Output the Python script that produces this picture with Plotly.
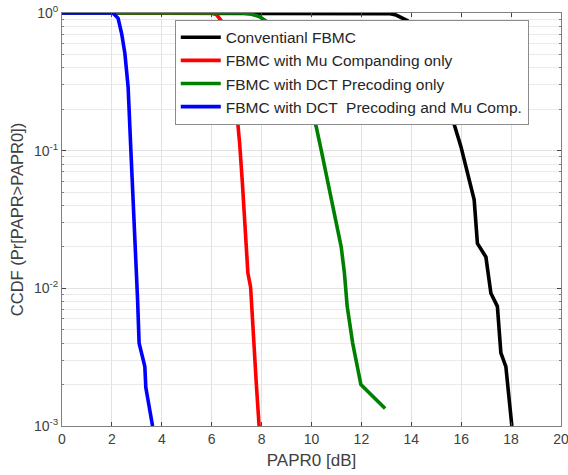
import plotly.graph_objects as go

# ---- data ----
conv_x = [0, 12.8, 13.1, 13.39, 13.65, 13.85, 14.2, 14.6, 15.0, 15.3, 15.52, 15.99, 16.25, 16.52, 16.65,
          16.99, 17.19, 17.45, 17.59, 17.79, 18.03]
conv_y = [1.0, 1.0, 0.99, 0.967, 0.915, 0.88, 0.75, 0.55, 0.38, 0.27, 0.204, 0.107, 0.068, 0.044, 0.0212,
          0.0169, 0.0092, 0.0074, 0.0034, 0.0027, 0.001]

mu_x = [0, 6.0, 6.2, 6.4, 6.6, 6.8, 6.99, 7.12, 7.23, 7.39, 7.45, 7.56, 7.68, 7.79, 7.9]
mu_y = [1.0, 1.0, 0.97, 0.87, 0.65, 0.4, 0.204, 0.113, 0.058, 0.020, 0.0129, 0.0102, 0.0040, 0.0020, 0.001]

dct_x = [0, 7.2, 7.6, 7.92, 8.19, 8.6, 9.0, 9.4, 9.7, 9.92, 10.19, 10.39, 10.59, 10.85, 10.99, 11.19,
         11.32, 11.43, 11.65, 11.98, 12.95]
dct_y = [1.0, 1.0, 0.98, 0.94, 0.87, 0.72, 0.55, 0.38, 0.27, 0.204, 0.149, 0.101, 0.068, 0.039, 0.031,
         0.020, 0.0129, 0.0074, 0.0040, 0.0020, 0.00134]

both_x = [0, 2.04, 2.25, 2.39, 2.52, 2.65, 2.76, 2.85, 2.96, 3.03, 3.09, 3.32, 3.36, 3.63]
both_y = [1.0, 1.0, 0.915, 0.71, 0.51, 0.29, 0.101, 0.044, 0.020, 0.0082, 0.0040, 0.0027, 0.0019, 0.001]

names = ["Conventianl FBMC", "FBMC with Mu Companding only",
         "FBMC with DCT Precoding only", "FBMC with DCT  Precoding and Mu Comp."]
colors = ["#000000", "#ff0000", "#008000", "#0000ff"]

x_ticks = list(range(0, 21, 2))
y_major = [1, 0.1, 0.01, 0.001]
y_major_text = ["10<sup>0</sup>", "10<sup>-1</sup>", "10<sup>-2</sup>", "10<sup>-3</sup>"]
y_minor = [m * d for d in [0.001, 0.01, 0.1] for m in range(2, 10)]

fig = go.Figure()
for xs, ys, nm, c in zip([conv_x, mu_x, dct_x, both_x], [conv_y, mu_y, dct_y, both_y], names, colors):
    fig.add_trace(go.Scatter(x=xs, y=ys, mode="lines", name=nm,
                             line=dict(color=c, width=3.6)))

axis_line = "#808080"
grid = "#e2e2e2"
fig.update_layout(
    width=568, height=475,
    margin=dict(l=62, r=7, t=13, b=49, autoexpand=False),
    paper_bgcolor="white", plot_bgcolor="white",
    font=dict(family="Liberation Sans, Arial, sans-serif", color="#404040"),
    showlegend=True,
    legend=dict(x=0.226, y=0.984, xanchor="left", yanchor="top",
                bgcolor="white", bordercolor="#8c8c8c", borderwidth=1,
                font=dict(size=15.5, color="#262626"), itemwidth=40,
                tracegroupgap=0),
)
fig.update_xaxes(range=[0, 20], tickvals=x_ticks, ticks="inside", ticklen=4, automargin=False,
                 ticklabeloverflow="allow",
                 showline=True, linecolor=axis_line, linewidth=1, mirror="ticks",
                 showgrid=True, gridcolor=grid, zeroline=False,
                 tickfont=dict(size=14, color="#404040"),
                 title=dict(text="PAPR0 [dB]", font=dict(size=17, color="#404040"), standoff=8))
fig.update_yaxes(type="log", range=[-3, 0], tickvals=y_major, ticktext=y_major_text,
                 ticks="inside", ticklen=4, automargin=False, ticklabeloverflow="allow",
                 showline=True, linecolor=axis_line, linewidth=1, mirror="ticks",
                 showgrid=True, gridcolor=grid, zeroline=False,
                 tickfont=dict(size=14, color="#404040"),
                 minor=dict(tickvals=y_minor, ticks="inside", ticklen=2, showgrid=True,
                            gridcolor="#eaeaea", tickcolor=axis_line),
                 title=dict(text="CCDF (Pr[PAPR>PAPR0])", font=dict(size=16.5, color="#404040"), standoff=6))

fig.write_html("out.html")
